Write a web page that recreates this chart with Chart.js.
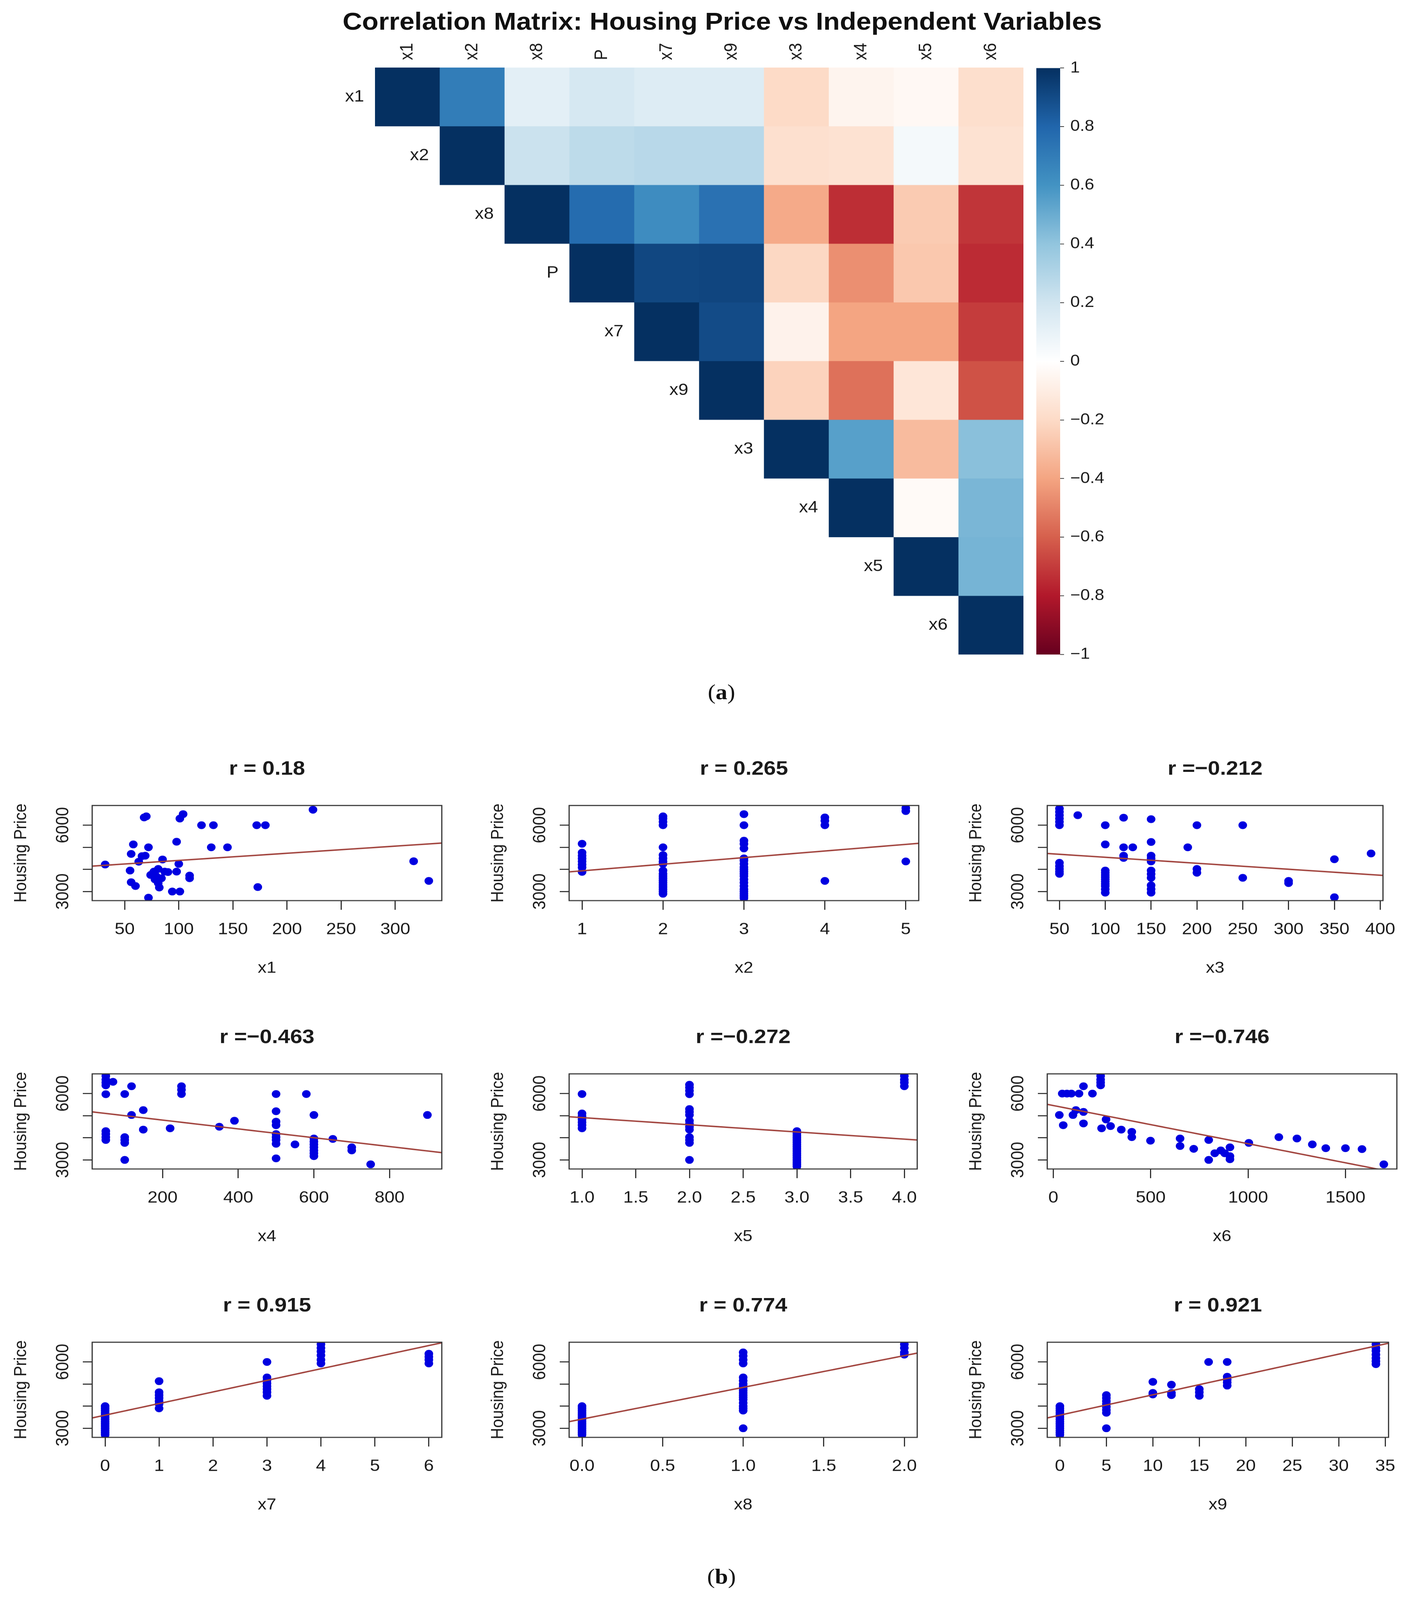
<!DOCTYPE html>
<html><head><meta charset="utf-8">
<script src="https://cdn.jsdelivr.net/npm/chart.js@4.4.1/dist/chart.umd.min.js"></script>
<style>
html,body{margin:0;padding:0;background:#fff;}
body{width:3625px;overflow:hidden;font-family:"Liberation Sans",Arial,sans-serif;}
#page{position:relative;width:3625px;height:4525px;transform-origin:0 0;}
canvas{position:absolute;display:block;}
#mainTitle{position:absolute;left:349px;width:3000px;top:27px;line-height:68px;font-size:69px;font-weight:bold;text-align:center;color:#111;white-space:nowrap;}
.cap{position:absolute;left:1647px;width:400px;text-align:center;font-family:"Liberation Serif","DejaVu Serif",serif;font-size:60px;line-height:60px;color:#111;}
</style></head><body>
<div id="page">
<div id="mainTitle">Correlation Matrix: Housing Price vs Independent Variables</div>
<div class="cap" style="top:1927px">(<b>a</b>)</div>
<div class="cap" style="top:4429px">(<b>b</b>)</div>
<canvas id="hm" width="1900" height="1830" style="left:760px;top:60px;width:1900px;height:1830px"></canvas>
<canvas id="cb" width="400" height="1750" style="left:2653px;top:150px;width:400px;height:1750px"></canvas>
</div>
<script>
// fit the 3625x4525 figure into the visible viewport height
(function(){
  const k = Math.min(1, window.innerHeight / 4525);
  const pg = document.getElementById('page');
  pg.style.transform = 'scale(1,' + k + ')';
  document.body.style.height = Math.floor(4525 * k) + 'px';
})();

// ---------- correlation matrix data ----------
const corrLabels = ['x1','x2','x8','P','x7','x9','x3','x4','x5','x6'];
const corrX1 = [1, 0.70, 0.12, 0.18, 0.15, 0.15, -0.20, -0.06, -0.04, -0.18];
const corrX2 = [1, 0.22, 0.265, 0.28, 0.28, -0.17, -0.16, 0.05, -0.16];
const corrX8 = [1, 0.774, 0.63, 0.75, -0.38, -0.74, -0.26, -0.72];
const corrP  = [1, 0.915, 0.921, -0.212, -0.463, -0.272, -0.746];
const corrX7 = [1, 0.90, -0.07, -0.40, -0.40, -0.70];
const corrX9 = [1, -0.23, -0.55, -0.14, -0.64];
const corrX3 = [1, 0.55, -0.32, 0.42];
const corrX4 = [1, -0.03, 0.46];
const corrX5 = [1, 0.47];
const corrX6 = [1];
const colorStops = ['#67001F','#B2182B','#D6604D','#F4A582','#FDDBC7','#FFFFFF','#D1E5F0','#92C5DE','#4393C3','#2166AC','#053061'];
const colorbarTicks = [-1,-0.8,-0.6,-0.4,-0.2,0,0.2,0.4,0.6,0.8,1];

// ---------- scatter data (x value, housing price) ----------
const x1Points = [[32,4220],[68,6350],[70,6400],[101,6300],[104,6500],[121,6000],[132,6000],[172,6000],[180,6000],[224,6700],[98,5250],[58,5130],[72,5000],[130,5000],[145,5000],[56,4700],[66,4600],[69,4620],[63,4350],[85,4450],[100,4250],[55,3950],[77,3900],[81,4020],[87,3900],[98,3900],[110,3720],[74,3750],[78,3550],[81,3380],[82,3180],[56,3420],[60,3250],[173,3200],[94,3000],[101,3000],[72,2720],[317,4370],[331,3480],[79,3700],[76,3820],[84,3600],[90,3880],[110,3600]];
const x2Points = [[1,5160],[1,4760],[1,4620],[1,4490],[1,4360],[1,4220],[1,4090],[1,3890],
 [2,6400],[2,6300],[2,6150],[2,6000],[2,5000],[2,4650],[2,4500],[2,4350],[2,4250],[2,3950],[2,3800],[2,3700],[2,3600],[2,3500],[2,3400],[2,3300],[2,3200],[2,3100],[2,3000],[2,2900],
 [3,6500],[3,6000],[3,5300],[3,5150],[3,4950],[3,4500],[3,4400],[3,4250],[3,4100],[3,4000],[3,3900],[3,3800],[3,3700],[3,3550],[3,3400],[3,3250],[3,3100],[3,3000],[3,2900],[3,2800],[3,2700],
 [4,6350],[4,6200],[4,6000],[4,3480],[5,6780],[5,6640],[5,4360]];
const x3Points = [[50,6750],[50,6600],[50,6450],[50,6300],[50,6150],[50,6000],[50,4300],[50,4150],[50,4020],[50,3900],[50,3800],[70,6450],
 [100,6000],[100,5130],[100,3950],[100,3850],[100,3750],[100,3650],[100,3550],[100,3450],[100,3350],[100,3250],[100,3100],[100,2950],
 [120,6340],[120,5000],[120,4620],[120,4520],[130,5000],
 [150,6270],[150,5240],[150,4620],[150,4490],[150,4360],[150,3950],[150,3790],[150,3620],[150,3280],[150,3110],[150,2950],
 [190,5000],[200,6000],[200,4020],[200,3850],[250,6000],[250,3620],[300,3480],[300,3380],[350,4460],[350,2740],[390,4720]];
const x4Points = [[50,6800],[50,6630],[50,6500],[50,6370],[50,5970],[50,4300],[50,4170],[50,4030],[50,3900],[69,6530],
 [100,5980],[100,4030],[100,3900],[100,3770],[100,3000],[118,6330],[118,5030],[149,5250],[149,4370],[220,4430],
 [250,6330],[250,6170],[250,5980],[350,4500],[390,4770],
 [500,5980],[500,5200],[500,4730],[500,4570],[500,4170],[500,4030],[500,3900],[500,3730],[500,3070],
 [550,3700],[580,5980],[600,5030],[600,3970],[600,3830],[600,3700],[600,3570],[600,3430],[600,3300],[600,3170],
 [650,3950],[700,3570],[700,3430],[750,2800],[900,5030]];
const x5Points = [[1,5980],[1,5100],[1,4970],[1,4830],[1,4700],[1,4570],[1,4430],
 [2,6400],[2,6270],[2,6130],[2,5970],[2,5300],[2,5170],[2,5030],[2,4770],[2,4630],[2,4500],[2,4370],[2,4030],[2,3900],[2,3770],[2,3000],
 [3,4300],[3,4200],[3,4100],[3,4000],[3,3900],[3,3800],[3,3700],[3,3600],[3,3500],[3,3400],[3,3300],[3,3200],[3,3100],[3,3000],[3,2900],[3,2800],[3,2700],
 [4,6800],[4,6630],[4,6500],[4,6330]];
const x6Points = [[243,6800],[243,6630],[243,6500],[243,6370],[155,6330],[46,6000],[70,6000],[93,6000],[132,6000],[201,6000],
 [31,5030],[51,4570],[101,5030],[116,5250],[155,5170],[155,4650],[248,4430],[271,4830],[294,4530],[349,4370],[403,4270],[403,4030],
 [499,3870],[651,3970],[651,3630],[721,3500],[798,3900],[798,3000],[829,3300],[860,3430],[880,3300],[907,3570],[907,3170],[907,3030],
 [1004,3770],[1158,4030],[1251,3970],[1330,3700],[1399,3530],[1500,3530],[1585,3490],[1697,2800]];
const x7Points = [[0,4000],[0,3900],[0,3800],[0,3700],[0,3600],[0,3500],[0,3400],[0,3300],[0,3200],[0,3100],[0,3000],[0,2900],[0,2800],[0,2700],
 [1,5130],[1,4630],[1,4500],[1,4370],[1,4230],[1,4100],[1,3900],
 [3,6000],[3,5300],[3,5170],[3,5030],[3,4900],[3,4770],[3,4630],[3,4470],
 [4,6800],[4,6630],[4,6470],[4,6300],[4,6100],[4,5930],[6,6370],[6,6230],[6,6100],[6,5930]];
const x8Points = [[0,4000],[0,3900],[0,3800],[0,3700],[0,3600],[0,3500],[0,3400],[0,3300],[0,3200],[0,3100],[0,3000],[0,2900],[0,2800],[0,2700],
 [1,6430],[1,6270],[1,6100],[1,5930],[1,5300],[1,5150],[1,5000],[1,4900],[1,4800],[1,4700],[1,4600],[1,4500],[1,4400],[1,4300],[1,4150],[1,4000],[1,3900],[1,3800],[1,3000],
 [2,6800],[2,6630],[2,6430],[2,6330]];
const x9Points = [[0,4000],[0,3900],[0,3800],[0,3700],[0,3600],[0,3500],[0,3400],[0,3300],[0,3200],[0,3100],[0,3000],[0,2900],[0,2800],[0,2700],
 [5,4500],[5,4370],[5,4230],[5,4100],[5,3970],[5,3830],[5,3700],[5,3000],
 [10,5100],[10,4600],[10,4530],[12,4970],[12,4600],[12,4500],[15,4770],[15,4630],[15,4470],[16,6000],
 [18,6000],[18,5330],[18,5200],[18,5070],[18,4930],
 [34,6800],[34,6630],[34,6500],[34,6330],[34,6170],[34,6030],[34,5900]];

// fitted line end points read at the plot edges
const x1Fit = [[20,4150],[343,5190]];
const x2Fit = [[0.84,3890],[5.16,5180]];
const x3Fit = [[36.7,4720],[403,3730]];
const x4Fit = [[14,5170],[938,3330]];
const x5Fit = [[0.88,4950],[4.12,3900]];
const x6Fit = [[-31,5513],[1764,2414]];
const x7Fit = [[-0.24,3467],[6.24,6867]];
const x8Fit = [[-0.08,3300],[2.08,6400]];
const x9Fit = [[-1.36,3467],[35.36,6847]];

const x1Ticks = [50,100,150,200,250,300];
const x2Ticks = [1,2,3,4,5];
const x3Ticks = [50,100,150,200,250,300,350,400];
const x4Ticks = [200,400,600,800];
const x5Ticks = [1.0,1.5,2.0,2.5,3.0,3.5,4.0];
const x6Ticks = [0,500,1000,1500];
const x7Ticks = [0,1,2,3,4,5,6];
const x8Ticks = [0.0,0.5,1.0,1.5,2.0];
const x9Ticks = [0,5,10,15,20,25,30,35];
const priceTicks = [3000,4000,5000,6000];
const priceLabels = [3000,6000];
const priceRange = [2590,6890];
const plotTitles = ['r = 0.18','r = 0.265','r =\u22120.212','r =\u22120.463','r =\u22120.272','r =\u22120.746','r = 0.915','r = 0.774','r = 0.921'];

// ---------- helpers ----------
const FONT = '"Liberation Sans", Arial, sans-serif';
Chart.defaults.font.family = FONT;
function hexToRgb(h){return [parseInt(h.slice(1,3),16),parseInt(h.slice(3,5),16),parseInt(h.slice(5,7),16)];}
function corrColor(v){
  const t = (v + 1) / 2 * (colorStops.length - 1);
  const i = Math.min(colorStops.length - 2, Math.floor(t));
  const f = t - i;
  const a = hexToRgb(colorStops[i]), b = hexToRgb(colorStops[i+1]);
  const c = a.map((av,k)=>Math.round(av + (b[k]-av)*f));
  return 'rgb('+c.join(',')+')';
}

// ---------- heatmap ----------
const corrRows = [corrX1,corrX2,corrX8,corrP,corrX7,corrX9,corrX3,corrX4,corrX5,corrX6];
const hmDatasets = corrRows.map((row,i)=>({
  data: corrLabels.map((_,j)=> j>=i ? [i,i+1] : null),
  backgroundColor: corrLabels.map((_,j)=> j>=i ? corrColor(row[j-i]) : 'rgba(0,0,0,0)'),
  borderWidth:0, barPercentage:1, categoryPercentage:1, grouped:false
}));
const hmLabelPlugin = {
  id:'hmLabels',
  afterDatasetsDraw(chart){
    const {ctx, scales:{x,y}} = chart;
    const cw = x.getPixelForValue(1) - x.getPixelForValue(0);
    ctx.save();
    ctx.font = '46px ' + FONT; ctx.fillStyle = '#1a1a1a';
    corrLabels.forEach((lab,i)=>{
      const cx = x.getPixelForValue(i);
      ctx.save();
      ctx.translate(cx, y.getPixelForValue(0) - 21);
      ctx.rotate(-Math.PI/2);
      ctx.textAlign='left'; ctx.textBaseline='middle';
      ctx.fillText(lab,0,0);
      ctx.restore();
      ctx.textAlign='right'; ctx.textBaseline='middle';
      ctx.fillText(lab, cx - cw/2 - 28, y.getPixelForValue(i+0.5));
    });
    ctx.restore();
  }
};
new Chart(document.getElementById('hm'), {
  type:'bar',
  data:{labels:corrLabels, datasets:hmDatasets},
  options:{
    responsive:false, animation:false,
    layout:{padding:{left:200,right:40,top:131,bottom:39}},
    plugins:{legend:{display:false}, tooltip:{enabled:false}},
    scales:{ x:{display:false}, y:{display:false,min:0,max:10,reverse:true} }
  },
  plugins:[hmLabelPlugin]
});

// ---------- colorbar ----------
new Chart(document.getElementById('cb'), {
  type:'bar',
  data:{labels:[''], datasets:[{
    data:[[colorbarTicks[0], colorbarTicks[colorbarTicks.length-1]]],
    backgroundColor:(c)=>{
      const ca = c.chart.chartArea; if(!ca) return '#fff';
      const g = c.chart.ctx.createLinearGradient(0, ca.bottom, 0, ca.top);
      colorStops.forEach((col,k)=> g.addColorStop(k/(colorStops.length-1), col));
      return g;
    },
    borderWidth:0, barPercentage:1, categoryPercentage:1
  }]},
  options:{
    responsive:false, animation:false,
    layout:{padding:{left:0,right:0,top:41,bottom:49}},
    plugins:{legend:{display:false}, tooltip:{enabled:false}},
    scales:{
      x:{display:false},
      y:{position:'right', min:-1, max:1,
        afterBuildTicks:(s)=>{ s.ticks = colorbarTicks.map(v=>({value:v})); },
        afterFit:(s)=>{ s.width = 339; },
        ticks:{font:{size:44}, color:'#1a1a1a', padding:16,
          callback:(v)=>{ const r=Math.round(v*10)/10; if(r===0) return '0'; return r<0 ? '\u2212'+Math.abs(r) : String(r); }},
        grid:{drawOnChartArea:false, drawTicks:true, tickLength:10, color:'#333', lineWidth:2},
        border:{display:false}
      }
    }
  }
});

// ---------- scatter plots ----------
const plotLefts = [236,1457,2681];
const plotTops = [2278,3037,3796];
const pageEl = document.getElementById('page');
function makeScatter(idx, points, fit, ticks, dec, xLabel){
  const col = idx % 3, row = Math.floor(idx/3);
  const L = plotLefts[col], T = plotTops[row];
  const cv = document.createElement('canvas');
  cv.width = 1160; cv.height = 679;
  cv.style.left = (L-240)+'px'; cv.style.top = (T-150)+'px';
  cv.style.width = '1160px'; cv.style.height = '679px';
  pageEl.appendChild(cv);
  const title = plotTitles[idx];
  const decor = {
    id:'decor'+idx,
    afterDraw(chart){
      const {ctx, chartArea:ca, scales:{y}} = chart;
      ctx.save();
      ctx.strokeStyle='#333'; ctx.lineWidth=3;
      ctx.strokeRect(ca.left, ca.top, ca.right-ca.left, ca.bottom-ca.top);
      ctx.fillStyle='#1a1a1a';
      ctx.font='46px '+FONT; ctx.textAlign='center'; ctx.textBaseline='middle';
      priceLabels.forEach(v=>{
        ctx.save(); ctx.translate(ca.left-74, y.getPixelForValue(v)); ctx.rotate(-Math.PI/2);
        ctx.fillText(String(v),0,0); ctx.restore();
      });
      ctx.font='bold 56px '+FONT;
      ctx.fillText(title, (ca.left+ca.right)/2, ca.top-102);
      ctx.restore();
    }
  };
  new Chart(cv, {
    type:'scatter',
    data:{datasets:[
      {type:'line', data:fit.map(p=>({x:p[0],y:p[1]})), borderColor:'#A0413B', borderWidth:4, pointRadius:0, fill:false, tension:0},
      {data:points.map(p=>({x:p[0],y:p[1]})), backgroundColor:'#0000E0', borderWidth:0, pointRadius:11, pointHoverRadius:11}
    ]},
    options:{
      responsive:false, animation:false,
      layout:{padding:{left:0,right:25,top:150,bottom:0}, autoPadding:false},
      plugins:{legend:{display:false}, tooltip:{enabled:false}},
      scales:{
        x:{type:'linear', min:fit[0][0], max:fit[1][0],
          afterBuildTicks:(s)=>{ s.ticks = ticks.map(v=>({value:v})); },
          afterFit:(s)=>{ s.height = 260; },
          ticks:{autoSkip:false, maxRotation:0, font:{size:46}, color:'#1a1a1a', padding:29,
            callback:(v)=>Number(v).toFixed(dec)},
          grid:{drawOnChartArea:false, drawTicks:true, tickLength:26, color:'#333', lineWidth:3},
          border:{display:false},
          title:{display:true, text:xLabel, font:{size:45}, color:'#1a1a1a', padding:{top:0,bottom:41}}
        },
        y:{type:'linear', min:priceRange[0], max:priceRange[1],
          afterBuildTicks:(s)=>{ s.ticks = priceTicks.map(v=>({value:v})); },
          afterFit:(s)=>{ s.width = 240; },
          ticks:{callback:()=>'' , font:{size:10}},
          grid:{drawOnChartArea:false, drawTicks:true, tickLength:24, color:'#333', lineWidth:3},
          border:{display:false},
          title:{display:true, text:'Housing Price', font:{size:45}, color:'#1a1a1a', padding:{top:32,bottom:0}}
        }
      }
    },
    plugins:[decor]
  });
}
makeScatter(0, x1Points, x1Fit, x1Ticks, 0, 'x1');
makeScatter(1, x2Points, x2Fit, x2Ticks, 0, 'x2');
makeScatter(2, x3Points, x3Fit, x3Ticks, 0, 'x3');
makeScatter(3, x4Points, x4Fit, x4Ticks, 0, 'x4');
makeScatter(4, x5Points, x5Fit, x5Ticks, 1, 'x5');
makeScatter(5, x6Points, x6Fit, x6Ticks, 0, 'x6');
makeScatter(6, x7Points, x7Fit, x7Ticks, 0, 'x7');
makeScatter(7, x8Points, x8Fit, x8Ticks, 1, 'x8');
makeScatter(8, x9Points, x9Fit, x9Ticks, 0, 'x9');
</script>
</body></html>
